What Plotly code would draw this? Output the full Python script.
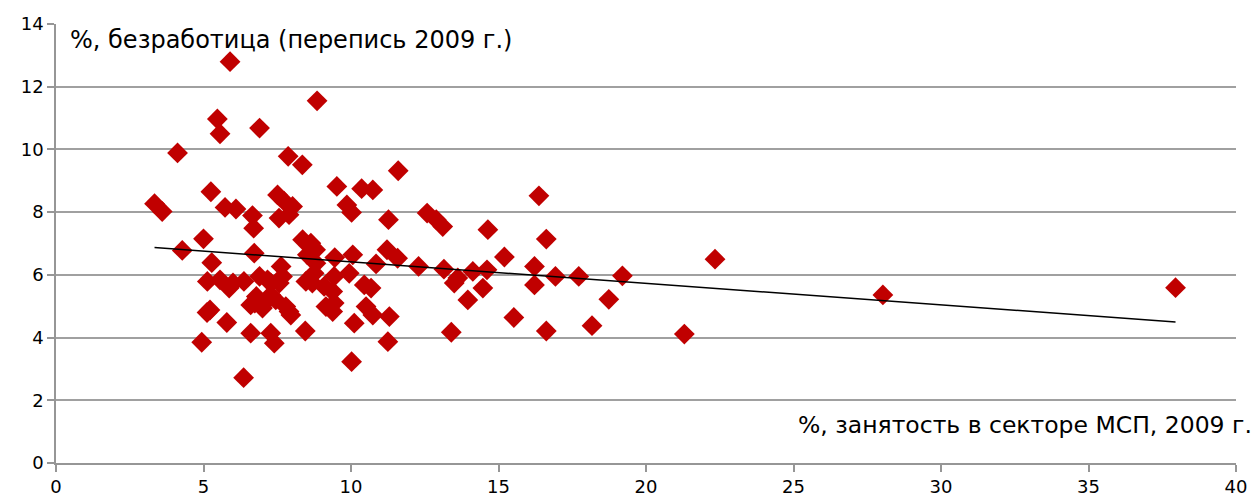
import plotly.graph_objects as go

# SME employment share, % (x) and unemployment, % (y)
sme_share = [3.34, 3.60, 4.12, 4.28, 4.94, 5.00, 5.13, 5.25, 5.28, 5.22,
             5.12, 5.47, 5.56, 5.56, 5.73, 5.79, 5.87, 5.90, 6.10, 6.00,
             6.37, 6.36, 6.60, 6.66, 6.70, 6.72, 6.90, 6.90, 6.79, 6.74,
             6.60, 7.00, 7.07, 7.17, 7.28, 7.28, 7.40, 7.45, 7.28, 7.51,
             7.56, 7.57, 7.63, 7.73, 7.90, 8.02, 7.79, 7.90, 7.96, 7.87,
             7.68, 8.35, 8.36, 8.64, 8.80, 8.52, 8.81, 8.75, 8.47, 8.69,
             8.45, 8.85, 9.09, 9.43, 9.38, 9.43, 9.38, 9.15, 9.45, 9.52,
             9.86, 10.02, 9.94, 10.06, 10.11, 10.02, 10.36, 10.74, 10.45, 10.68,
             10.51, 10.74, 10.85, 11.22, 11.58, 11.27, 11.60, 11.30, 11.25, 12.29,
             12.58, 12.89, 13.11, 13.15, 13.50, 13.62, 13.40, 13.96, 14.13, 14.61,
             14.47, 14.64, 15.20, 15.52, 16.37, 16.62, 16.22, 16.22, 16.93, 17.72,
             19.20, 18.74, 16.62, 18.17, 21.30, 22.34, 28.03, 37.95]
unemployment = [8.27, 8.02, 9.89, 6.78, 3.85, 7.15, 5.79, 8.65, 6.39, 4.88,
                4.80, 10.97, 10.50, 5.84, 8.15, 4.48, 5.58, 12.80, 8.10, 5.74,
                5.79, 2.72, 4.14, 7.89, 7.49, 6.69, 10.68, 5.95, 5.31, 5.10,
                5.04, 4.94, 5.10, 5.84, 5.74, 4.14, 3.82, 5.20, 5.36, 8.55,
                7.81, 5.74, 6.27, 8.35, 7.92, 8.18, 4.99, 4.83, 4.72, 9.78,
                5.95, 9.51, 7.12, 7.01, 6.80, 6.64, 6.37, 6.05, 5.79, 5.74,
                4.21, 11.55, 5.63, 5.95, 5.47, 5.10, 4.83, 4.99, 6.55, 8.82,
                8.23, 7.99, 6.05, 6.64, 4.46, 3.23, 8.75, 8.71, 5.68, 5.58,
                4.99, 4.72, 6.35, 6.80, 6.53, 7.76, 9.32, 4.67, 3.87, 6.27,
                7.97, 7.76, 7.54, 6.18, 5.74, 5.90, 4.17, 5.20, 6.11, 6.16,
                5.58, 7.44, 6.57, 4.64, 8.52, 7.14, 6.27, 5.68, 5.95, 5.95,
                5.97, 5.22, 4.21, 4.38, 4.11, 6.50, 5.36, 5.59]

# linear trend line endpoints
trend_x = [3.34, 37.95]
trend_y = [6.87, 4.50]

y_title = "%, безработица (перепись 2009 г.)"
x_title = "%, занятость в секторе МСП, 2009 г."

FONT = "DejaVu Sans, Verdana, sans-serif"

fig = go.Figure()
fig.add_trace(go.Scatter(
    x=sme_share, y=unemployment, mode="markers",
    marker=dict(symbol="diamond", size=16, color="#C00000", line=dict(width=0)),
    showlegend=False, hoverinfo="x+y"))
fig.add_trace(go.Scatter(
    x=trend_x, y=trend_y, mode="lines",
    line=dict(color="#000000", width=1.5), showlegend=False, hoverinfo="skip"))

fig.update_layout(
    width=1259, height=501,
    margin=dict(l=48, r=31, t=16, b=46),
    paper_bgcolor="white", plot_bgcolor="white",
    font=dict(family=FONT, size=18, color="#000000"),
    xaxis=dict(range=[0, 40], dtick=5, tick0=0, showgrid=False, zeroline=False,
               showline=True, linecolor="#969696", linewidth=1.5,
               ticks="outside", ticklen=7, tickcolor="#969696", tickwidth=1.5,
               tickfont=dict(family=FONT, size=18), fixedrange=True,
               automargin=False),
    yaxis=dict(range=[0, 14], dtick=2, tick0=0, showgrid=True, gridcolor="#A0A0A0",
               gridwidth=1.5, zeroline=False,
               showline=True, linecolor="#969696", linewidth=1.5,
               ticks="outside", ticklen=7, tickcolor="#969696", tickwidth=1.5,
               tickfont=dict(family=FONT, size=18), fixedrange=True,
               automargin=False),
    annotations=[
        dict(text=y_title, xref="x", yref="y", x=0, y=13.5, xanchor="left",
             yanchor="middle", xshift=12, showarrow=False,
             font=dict(family=FONT, size=24, color="#000000")),
        dict(text=x_title, xref="x", yref="y", x=40, y=1.2, xanchor="right",
             yanchor="middle", xshift=18, showarrow=False,
             font=dict(family=FONT, size=23.5, color="#000000")),
    ],
)

fig.write_html("out.html")
